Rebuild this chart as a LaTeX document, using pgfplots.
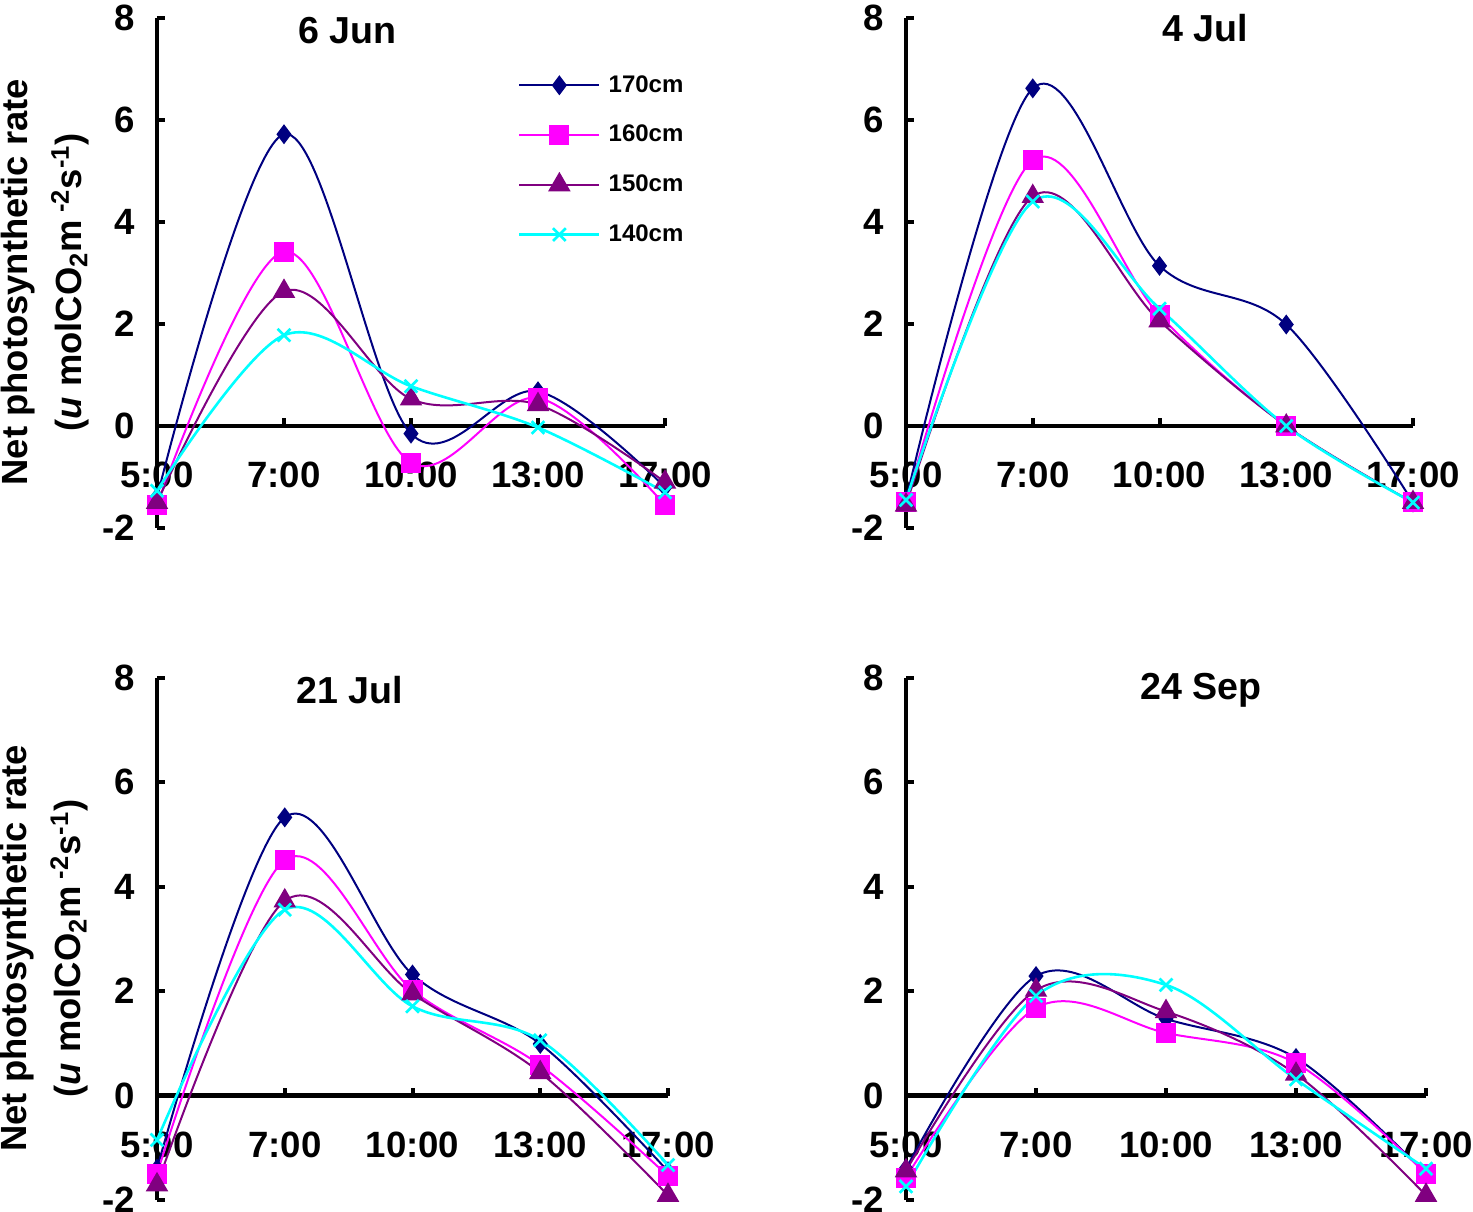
\documentclass[border=0pt]{standalone}
\usepackage{fontspec}
\setmainfont{Liberation Sans}
\usepackage{pgfplots}
\pgfplotsset{compat=1.18}
\definecolor{c170}{RGB}{0,0,128}
\definecolor{c160}{RGB}{255,0,255}
\definecolor{c150}{RGB}{128,0,128}
\definecolor{c140}{RGB}{0,255,255}
\pgfplotsset{
 panel/.style={
  scale only axis, clip=false,
  xmin=0, xmax=4, ymin=-2, ymax=8,
  axis x line*=middle, axis y line*=left,
  hide obscured x ticks=false, hide obscured y ticks=false,
  xtick={0,1,2,3,4}, xticklabels={5:00,7:00,10:00,13:00,17:00},
  ytick={-2,0,2,4,6,8}, yticklabels={-2,0,2,4,6,8},
  tick align=inside, major tick length=4pt,
  axis line style={line width=2.4pt, black},
  major tick style={black, line width=2pt},
  tick label style={font=\fontsize{18.3}{20}\selectfont\bfseries},
  xticklabel style={yshift=-14.5pt},
  yticklabel style={xshift=-7.5pt},
  every axis plot/.append style={smooth, tension=0.55},
 },
 leftlab/.style={
  ylabel={Net photosynthetic rate\\(\textit{u} molCO\textsubscript{2}m\textsuperscript{ -2}s\textsuperscript{-1})},
  ylabel style={align=center, font=\fontsize{18.2}{27}\selectfont\bfseries, at={(axis description cs:-0.2205,0.482)}, anchor=center},
 },
 s170/.style={color=c170, line width=1pt, mark=diamond*, mark size=4.2pt, mark options={solid, fill=c170}},
 s160/.style={color=c160, line width=1pt, mark=square*, mark size=4.5pt, mark options={solid, fill=c160}},
 s150/.style={color=c150, line width=1pt, mark=triangle*, mark size=5.5pt, mark options={solid, fill=c150}},
 s140/.style={color=c140, line width=1.3pt, mark=x, mark size=4.5pt, mark options={solid}},
}
\newcommand{\ttl}[3]{\node[font=\fontsize{18.8}{20}\selectfont\bfseries] at (axis cs:#1,#2) {#3};}
\begin{document}
\begin{tikzpicture}
\path[use as bounding box] (0,0) rectangle (736.5pt,605.5pt);
% 6 Jun
\begin{axis}[panel, leftlab, at={(78.5pt,341.5pt)}, anchor=south west, width=254pt, height=255pt,
  legend style={draw=none, fill=none, at={(axis cs:2.84,6.96)}, anchor=north west, inner sep=0pt,
    font=\fontsize{12}{13}\selectfont\bfseries, row sep=11pt, legend cell align=left,
    /tikz/every odd column/.append style={column sep=2pt}},
  legend image code/.code={\draw[mark repeat=2,mark phase=2,#1] plot coordinates {(0pt,0pt) (20pt,0pt) (40pt,0pt)};}]
\addplot[s170] coordinates {(0,-1.4) (1,5.72) (2,-0.15) (3,0.68) (4,-1.2)};
\addplot[s160] coordinates {(0,-1.55) (1,3.42) (2,-0.72) (3,0.55) (4,-1.55)};
\addplot[s150] coordinates {(0,-1.5) (1,2.64) (2,0.53) (3,0.42) (4,-1.1)};
\addplot[s140] coordinates {(0,-1.27) (1,1.78) (2,0.78) (3,-0.03) (4,-1.3)};
\legend{170cm,160cm,150cm,140cm}
\ttl{1.5}{7.75}{6 Jun}
\end{axis}
% 4 Jul
\begin{axis}[panel, at={(453pt,341.5pt)}, anchor=south west, width=253.5pt, height=255pt]
\addplot[s170] coordinates {(0,-1.45) (1,6.62) (2,3.14) (3,1.99) (4,-1.5)};
\addplot[s160] coordinates {(0,-1.5) (1,5.21) (2,2.17) (3,0.0) (4,-1.5)};
\addplot[s150] coordinates {(0,-1.55) (1,4.5) (2,2.06) (3,0.0) (4,-1.5)};
\addplot[s140] coordinates {(0,-1.45) (1,4.4) (2,2.3) (3,0.0) (4,-1.5)};
\ttl{2.36}{7.8}{4 Jul}
\end{axis}
% 21 Jul
\begin{axis}[panel, leftlab, at={(78.5pt,5.5pt)}, anchor=south west, width=255.5pt, height=261pt]
\addplot[s170] coordinates {(0,-1.4) (1,5.33) (2,2.32) (3,0.99) (4,-1.45)};
\addplot[s160] coordinates {(0,-1.5) (1,4.51) (2,2.02) (3,0.58) (4,-1.54)};
\addplot[s150] coordinates {(0,-1.71) (1,3.73) (2,1.95) (3,0.44) (4,-1.91)};
\addplot[s140] coordinates {(0,-0.85) (1,3.56) (2,1.71) (3,1.06) (4,-1.33)};
\ttl{1.51}{7.77}{21 Jul}
\end{axis}
% 24 Sep
\begin{axis}[panel, at={(453pt,5.5pt)}, anchor=south west, width=260pt, height=261pt]
\addplot[s170] coordinates {(0,-1.4) (1,2.29) (2,1.47) (3,0.72) (4,-1.5)};
\addplot[s160] coordinates {(0,-1.57) (1,1.68) (2,1.2) (3,0.62) (4,-1.5)};
\addplot[s150] coordinates {(0,-1.44) (1,2.02) (2,1.61) (3,0.41) (4,-1.91)};
\addplot[s140] coordinates {(0,-1.74) (1,1.91) (2,2.12) (3,0.31) (4,-1.4)};
\ttl{2.27}{7.77}{24 Sep}
\end{axis}
\end{tikzpicture}
\end{document}
